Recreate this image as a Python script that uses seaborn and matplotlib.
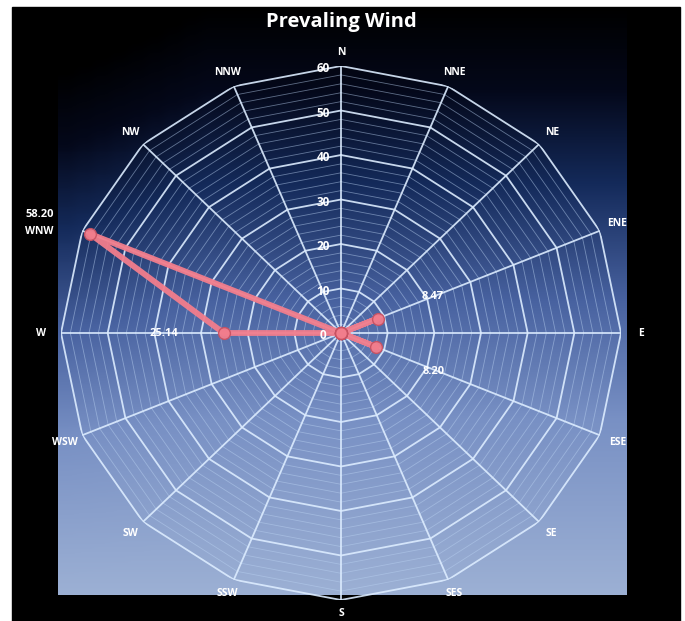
import numpy as np
import pandas as pd
import matplotlib
matplotlib.use("Agg")
import matplotlib.pyplot as plt
from matplotlib.colors import LinearSegmentedColormap
from matplotlib.patches import Rectangle
import seaborn as sns

directions = ["N", "NNE", "NE", "ENE", "E", "ESE", "SE", "SES",
              "S", "SSW", "SW", "WSW", "W", "WNW", "NW", "NNW"]
speeds = [0, 0, 0, 8.47, 0, 8.20, 0, 0, 0, 0, 0, 0, 25.14, 58.20, 0, 0]
radial_ticks = [0, 10, 20, 30, 40, 50, 60]
title = "Prevaling Wind"

sns.set_theme(style="white")
plt.rcParams['font.family'] = ['Open Sans', 'DejaVu Sans']

W, H = 685, 621
fig = plt.figure(figsize=(W / 100, H / 100), dpi=100)
fig.patch.set_facecolor("white")

# screen frame (black) and plot-area gradient
fig.patches.append(Rectangle((12 / W, 0), (680 - 12) / W, 1 - 7 / H,
                             transform=fig.transFigure, color="black", zorder=-10))
bg = fig.add_axes([58 / W, (H - 595) / H, (627 - 58) / W, (595 - 7) / H], zorder=-5)
cmap = LinearSegmentedColormap.from_list(
    "scr", [(0.0, "#000000"), (0.14, "#04081a"), (0.3, "#142a5a"),
            (0.5, "#4862a0"), (0.7, "#7890c4"), (1.0, "#9cb0d4")])
grad = np.linspace(0, 1, 256)[:, None] * np.ones((1, 32))
xg = np.linspace(0, 1, 32)[None, :]
grad = np.clip(grad - 0.12 * (1 - np.minimum(xg * 4, 1)) * (1 - grad), 0, 1)
bg.imshow(grad, aspect="auto", cmap=cmap, extent=[0, 1, 0, 1], origin="upper")
bg.set_axis_off()

cx, cy, Rx, Ry = 341, 333, 280, 267
ax = fig.add_axes([(cx - Rx) / W, (H - cy - Ry) / H, 2 * Rx / W, 2 * Ry / H],
                  projection="polar")
ax.set_aspect("auto")
ax.set_facecolor("none")
ax.patch.set_alpha(0)
ax.set_theta_zero_location("N")
ax.set_theta_direction(-1)
ax.set_ylim(0, radial_ticks[-1])
ax.grid(False)
ax.set_xticks([])
ax.set_yticks([])
ax.spines["polar"].set_visible(False)

n = len(directions)
theta = np.linspace(0, 2 * np.pi, n, endpoint=False)
theta_closed = np.append(theta, theta[0])

# minor polygon grid
for r in np.arange(2, radial_ticks[-1], 2):
    if r % 10 == 0:
        continue
    ax.plot(theta_closed, np.full(n + 1, r), color="#b8d0f0", lw=0.6, alpha=0.5, zorder=1)
# major polygon grid
for r in radial_ticks[1:]:
    ax.plot(theta_closed, np.full(n + 1, r), color="#dcecff", lw=1.3, alpha=0.9, zorder=2)
# spokes
for t in theta:
    ax.plot([t, t], [0, radial_ticks[-1]], color="#dcecff", lw=1.3, alpha=0.9, zorder=2)

# data line
df = pd.DataFrame({"theta": theta_closed, "speed": speeds + [speeds[0]]})
sns.lineplot(data=df, x="theta", y="speed", sort=False, ax=ax, color="#f27d8c",
             lw=4.2, alpha=0.95, marker="o", markersize=8.5, markeredgecolor="#c85262",
             markeredgewidth=1.0, zorder=5)
ax.set_xlabel("")
ax.set_ylabel("")

# direction labels
for t, d in zip(theta, directions):
    rr = 63 + 1.2 * abs(np.sin(t))
    ang = t
    if d == "WNW":
        rr, ang = 68.5, np.deg2rad(-70.5)
    ax.text(ang, rr, d, color="white", fontsize=7.5, fontweight="bold",
            ha="center", va="center", clip_on=False, zorder=10)

# radial tick labels
for r in radial_ticks:
    ax.annotate(str(r), xy=(0, r), xytext=(-13, -2), textcoords="offset points",
                color="white", fontsize=8.5, fontweight="bold", ha="center", va="center",
                zorder=10)

# data labels
offsets = {"ENE": (40, 16), "ESE": (41, -18), "W": (-43, 0), "WNW": (-36, 14)}
for t, d, s in zip(theta, directions, speeds):
    if d in offsets:
        ax.annotate(f"{s:.2f}", xy=(t, s), xytext=offsets[d], textcoords="offset points",
                    color="white", fontsize=8, fontweight="bold", ha="center", va="center",
                    annotation_clip=False, zorder=10)

fig.text(cx / W, 1 - 22 / H, title, color="white", fontsize=14.5, fontweight="bold",
         ha="center", va="center")

fig.savefig("out.png", dpi=100, facecolor=fig.get_facecolor())
